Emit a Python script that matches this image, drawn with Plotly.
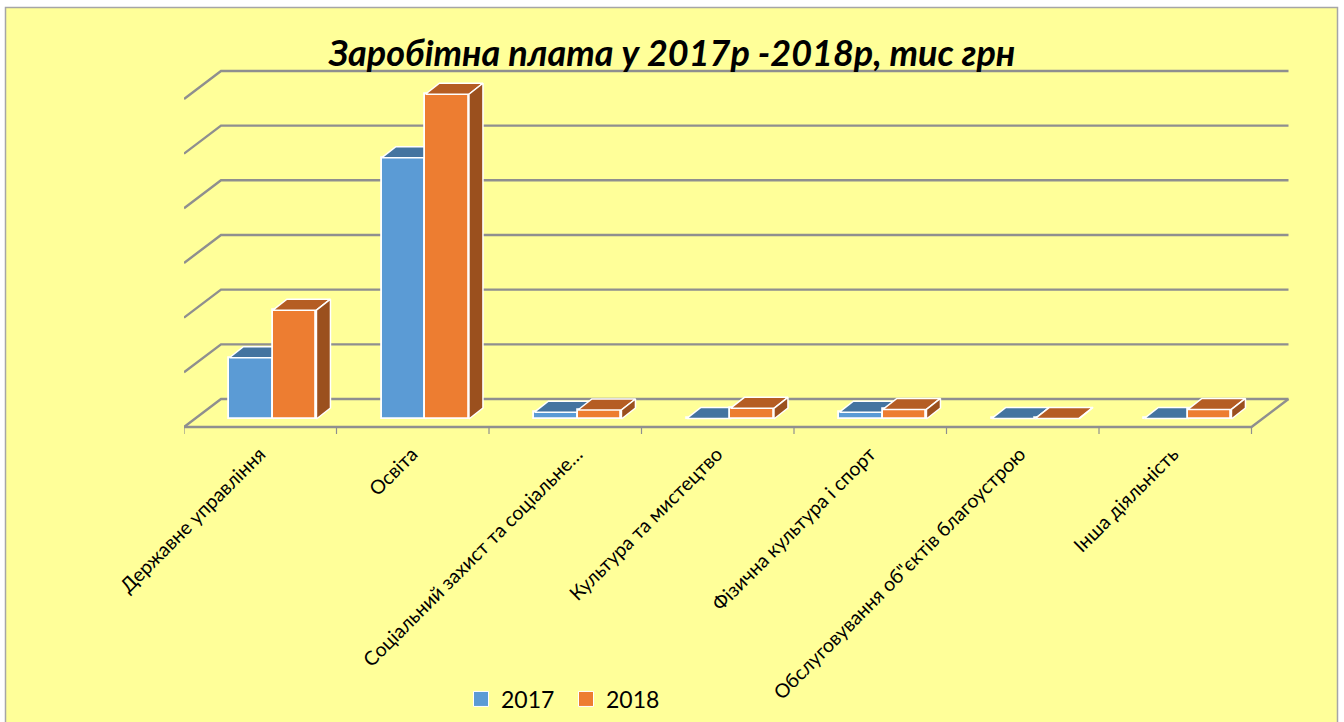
import plotly.graph_objects as go

# ---- data (units: one wall grid step) ----
categories = ["Державне управління", "Освіта", "Соціальний захист та соціальне…",
              "Культура та мистецтво", "Фізична культура і спорт",
              "Обслуговування об\"єктів благоустрою", "Інша діяльність"]
series_names = ["2017", "2018"]
values_2017 = [1.12, 4.78, 0.125, 0.01, 0.125, 0.01, 0.01]
values_2018 = [1.99, 5.94, 0.165, 0.195, 0.175, 0.01, 0.175]
grid_levels = [0, 1, 2, 3, 4, 5, 6]
# where each rotated label ends, in px
label_end_px = [265, 417, 582, 722, 875, 1025, 1178]

# ---- pixel layout ----
W, H = 1344, 722
PX_X = 152.5           # px per category
PX_Y = 54.67           # px per grid step
X0_PX, BASE_PX = 184, 419
PLOT_L, PLOT_R, PLOT_T, PLOT_B = 184, 1290, 60, 436

WALL_DX, WALL_DY = 37 / PX_X, 28 / PX_Y      # floor depth
FLOOR_Y = (BASE_PX - 427) / PX_Y             # front floor edge
BAR_DX, BAR_DY = 14 / PX_X, 11 / PX_Y        # bar depth
BAR_CENTER, BAR_W = 0.583, 0.2855
TICK_LEN = 7 / PX_Y
N = len(categories)

FONT = "Lato, Carlito, 'Open Sans', sans-serif"
GRID = "#8f8f8f"
BLUE, BLUE_TOP, BLUE_SIDE = "#5B9BD5", "#4474A0", "#3A6A96"
ORANGE, ORANGE_TOP, ORANGE_SIDE = "#ED7D31", "#B55D23", "#9B501E"

fig = go.Figure()

# back wall + left wall grid lines
for k in grid_levels:
    xs = [0, WALL_DX, N + WALL_DX]
    ys = [k + FLOOR_Y, k + FLOOR_Y + WALL_DY, k + FLOOR_Y + WALL_DY]
    fig.add_trace(go.Scatter(x=xs, y=ys, mode="lines", showlegend=False, hoverinfo="skip",
                             line=dict(color=GRID, width=2.4), zorder=0))

# floor front edge and right edge, tick marks
fig.add_trace(go.Scatter(x=[0, N, N + WALL_DX], y=[FLOOR_Y, FLOOR_Y, FLOOR_Y + WALL_DY],
                         mode="lines", showlegend=False, hoverinfo="skip",
                         line=dict(color=GRID, width=2.4), zorder=0))
tx, ty = [], []
for i in range(N + 1):
    tx += [i, i, None]
    ty += [FLOOR_Y, FLOOR_Y - TICK_LEN, None]
fig.add_trace(go.Scatter(x=tx, y=ty, mode="lines", showlegend=False, hoverinfo="skip",
                         line=dict(color=GRID, width=1.2), zorder=0))


def add_series(name, vals, side, front, top, sidec, z):
    off = -BAR_W if side == 0 else 0
    fig.add_trace(go.Bar(x=[i + BAR_CENTER for i in range(N)], y=vals, width=BAR_W,
                         offset=off, name=name, showlegend=False,
                         marker=dict(color=front, line=dict(color="white", width=1.8)),
                         zorder=z))
    for i, v in enumerate(vals):
        l = i + BAR_CENTER + off
        r = l + BAR_W
        fig.add_trace(go.Scatter(
            x=[l, l + BAR_DX, r + BAR_DX, r, l], y=[v, v + BAR_DY, v + BAR_DY, v, v],
            mode="lines", fill="toself", fillcolor=top, showlegend=False, hoverinfo="skip",
            line=dict(color="white", width=1.5), zorder=z + 1))
        fig.add_trace(go.Scatter(
            x=[r, r + BAR_DX, r + BAR_DX, r, r], y=[0, BAR_DY, v + BAR_DY, v, 0],
            mode="lines", fill="toself", fillcolor=sidec, showlegend=False, hoverinfo="skip",
            line=dict(color="white", width=1.5), zorder=z + 1))


add_series(series_names[0], values_2017, 0, BLUE, BLUE_TOP, BLUE_SIDE, 1)
add_series(series_names[1], values_2018, 1, ORANGE, ORANGE_TOP, ORANGE_SIDE, 3)

# legend keys
for name, col in zip(series_names, [BLUE, ORANGE]):
    fig.add_trace(go.Scatter(x=[None], y=[None], mode="markers", name=name,
                             marker=dict(symbol="square", size=15, color=col,
                                         line=dict(color="white", width=1))))

fig.update_layout(
    width=W, height=H,
    margin=dict(l=PLOT_L, r=W - PLOT_R, t=PLOT_T, b=H - PLOT_B, autoexpand=False),
    paper_bgcolor="white", plot_bgcolor="rgba(0,0,0,0)",
    barmode="overlay", bargap=0,
    font=dict(family=FONT, color="black"),
    title=dict(text="<b><i>Заробітна плата у 2017р -2018р, тис грн</i></b>",
               x=0.5, xanchor="center", y=1 - 53 / H, yanchor="middle",
               font=dict(size=36, family=FONT, color="black")),
    xaxis=dict(range=[0, (PLOT_R - X0_PX) / PX_X], showgrid=False, zeroline=False, showline=False,
               tickmode="array", tickvals=[(e - 5 - X0_PX) / PX_X for e in label_end_px],
               ticktext=categories,
               tickangle=-45, ticks="", tickfont=dict(size=19.5, family=FONT, color="black"),
               ticklabelstandoff=2, automargin=False),
    yaxis=dict(range=[(BASE_PX - PLOT_B) / PX_Y, (BASE_PX - PLOT_T) / PX_Y], showgrid=False,
               zeroline=False, showline=False, showticklabels=False, ticks="", automargin=False),
    legend=dict(orientation="h", x=(468 - PLOT_L) / (PLOT_R - PLOT_L), xanchor="left",
                y=-(699 - PLOT_B) / (PLOT_B - PLOT_T), yanchor="middle",
                font=dict(size=23, family=FONT, color="black"), bgcolor="rgba(0,0,0,0)",
                entrywidth=67, indentation=-7, itemclick=False, itemdoubleclick=False),
    shapes=[dict(type="rect", layer="below", xref="paper", yref="paper",
                 x0=(5.5 - PLOT_L) / (PLOT_R - PLOT_L), x1=(1337.5 - PLOT_L) / (PLOT_R - PLOT_L),
                 y0=(PLOT_B - 730) / (PLOT_B - PLOT_T), y1=(PLOT_B - 7.5) / (PLOT_B - PLOT_T),
                 fillcolor="#FFFF99", line=dict(color="#A6A6A6", width=1.5))],
    showlegend=True,
)

fig.write_html("out.html", config={"displayModeBar": False},
               post_script="document.body.style.margin='0';document.body.style.overflow='hidden';")
